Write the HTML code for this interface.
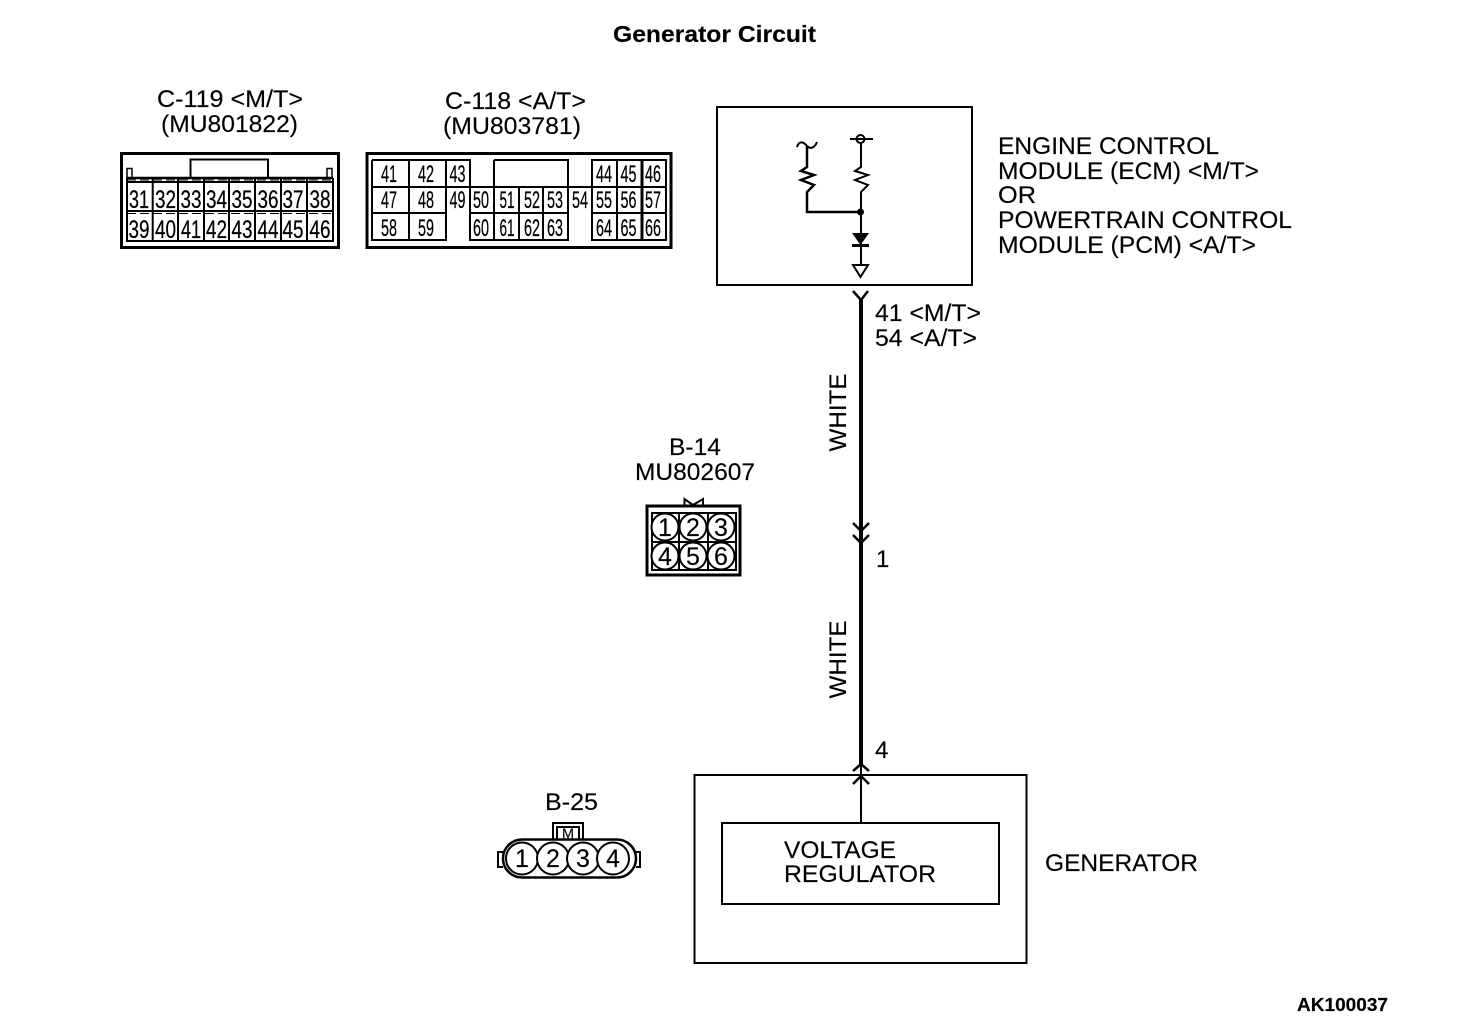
<!DOCTYPE html>
<html><head><meta charset="utf-8"><style>
html,body{margin:0;padding:0;background:#fff}
svg{display:block}
text{font-family:"Liberation Sans",sans-serif;fill:#000;font-size:24px;stroke:#000;stroke-width:.15}
.n{font-size:25px;text-anchor:middle;stroke-width:.25}
.m{font-size:24px;text-anchor:middle;stroke-width:.25}
.c{font-size:25px;text-anchor:middle}
</style></head><body>
<svg width="1472" height="1036" viewBox="0 0 1472 1036" xmlns="http://www.w3.org/2000/svg">
<rect width="1472" height="1036" fill="#fff"/>
<text x="613" y="42" font-weight="bold" textLength="203" lengthAdjust="spacingAndGlyphs" style="font-size:23px">Generator Circuit</text>
<text x="157" y="107" textLength="146" lengthAdjust="spacingAndGlyphs">C-119 &lt;M/T&gt;</text>
<text x="161" y="132" textLength="137" lengthAdjust="spacingAndGlyphs">(MU801822)</text>
<text x="445" y="109" textLength="141" lengthAdjust="spacingAndGlyphs">C-118 &lt;A/T&gt;</text>
<text x="443" y="134" textLength="138" lengthAdjust="spacingAndGlyphs">(MU803781)</text>

<!-- C-119 -->
<g fill="none" stroke="#000" stroke-width="1.5">
<rect x="121.500" y="153.500" width="217" height="94" stroke-width="3"/>
<path d="M190.500 178V159.500H268V178" stroke-width="2"/>
<path d="M127 178V168.500H132V178M327 178V168.500H332V178"/>
<path d="M127 178H333" stroke-width="2.500"/>
<path d="M127 182H333M127 211H333" stroke-width="2"/>
<path d="M127 180H333M127 213.500H333" stroke-dasharray="9 4" stroke-width="1"/>
<path d="M127 178V241H333V178" stroke-width="2"/>
<path d="M152.700 178V241M178 178V241M204 178V241M229 178V241M255 178V241M281 178V241M307 178V241" stroke-width="2"/>
</g>
<g>
<text class="n" x="139" y="208" textLength="20" lengthAdjust="spacingAndGlyphs">31</text><text class="n" x="165.500" y="208" textLength="21" lengthAdjust="spacingAndGlyphs">32</text><text class="n" x="191" y="208" textLength="21" lengthAdjust="spacingAndGlyphs">33</text><text class="n" x="216.500" y="208" textLength="21" lengthAdjust="spacingAndGlyphs">34</text><text class="n" x="242" y="208" textLength="21" lengthAdjust="spacingAndGlyphs">35</text><text class="n" x="268" y="208" textLength="21" lengthAdjust="spacingAndGlyphs">36</text><text class="n" x="293" y="208" textLength="21" lengthAdjust="spacingAndGlyphs">37</text><text class="n" x="320" y="208" textLength="21" lengthAdjust="spacingAndGlyphs">38</text>
<text class="n" x="139" y="238" textLength="21" lengthAdjust="spacingAndGlyphs">39</text><text class="n" x="165.500" y="238" textLength="21" lengthAdjust="spacingAndGlyphs">40</text><text class="n" x="191" y="238" textLength="20" lengthAdjust="spacingAndGlyphs">41</text><text class="n" x="216.500" y="238" textLength="21" lengthAdjust="spacingAndGlyphs">42</text><text class="n" x="242" y="238" textLength="21" lengthAdjust="spacingAndGlyphs">43</text><text class="n" x="268" y="238" textLength="21" lengthAdjust="spacingAndGlyphs">44</text><text class="n" x="293" y="238" textLength="21" lengthAdjust="spacingAndGlyphs">45</text><text class="n" x="320" y="238" textLength="21" lengthAdjust="spacingAndGlyphs">46</text>
</g>

<!-- C-118 -->
<g fill="none" stroke="#000" stroke-width="2">
<rect x="367" y="153.500" width="304" height="94" stroke-width="3"/>
<path d="M372 160H470V187H666V160H592V187M372 160V240H446V187M372 187H470M372 213H446M409 160V240M446 160V187"/>
<path d="M470 187V240H568V187M470 213H568M494 160V240M519 187V240M543 187V240M568 187V160H494M592 187V240H666V187M592 213H666M617 160V240"/>
<path d="M642 160V240" stroke-width="3"/>
</g>
<text class="m" x="389" y="182" textLength="16" lengthAdjust="spacingAndGlyphs">41</text><text class="m" x="426" y="182" textLength="16" lengthAdjust="spacingAndGlyphs">42</text><text class="m" x="457.500" y="182" textLength="16" lengthAdjust="spacingAndGlyphs">43</text>
<text class="m" x="604" y="182" textLength="16" lengthAdjust="spacingAndGlyphs">44</text><text class="m" x="628.500" y="182" textLength="16" lengthAdjust="spacingAndGlyphs">45</text><text class="m" x="653" y="182" textLength="16" lengthAdjust="spacingAndGlyphs">46</text>
<text class="m" x="389" y="208" textLength="16" lengthAdjust="spacingAndGlyphs">47</text><text class="m" x="426" y="208" textLength="16" lengthAdjust="spacingAndGlyphs">48</text><text class="m" x="457.500" y="208" textLength="16" lengthAdjust="spacingAndGlyphs">49</text><text class="m" x="481" y="208" textLength="16" lengthAdjust="spacingAndGlyphs">50</text><text class="m" x="507" y="208" textLength="15" lengthAdjust="spacingAndGlyphs">51</text><text class="m" x="532" y="208" textLength="16" lengthAdjust="spacingAndGlyphs">52</text><text class="m" x="555" y="208" textLength="16" lengthAdjust="spacingAndGlyphs">53</text><text class="m" x="580" y="208" textLength="16" lengthAdjust="spacingAndGlyphs">54</text><text class="m" x="604" y="208" textLength="16" lengthAdjust="spacingAndGlyphs">55</text><text class="m" x="628.500" y="208" textLength="16" lengthAdjust="spacingAndGlyphs">56</text><text class="m" x="653" y="208" textLength="16" lengthAdjust="spacingAndGlyphs">57</text>
<text class="m" x="389" y="236" textLength="16" lengthAdjust="spacingAndGlyphs">58</text><text class="m" x="426" y="236" textLength="16" lengthAdjust="spacingAndGlyphs">59</text><text class="m" x="481" y="236" textLength="16" lengthAdjust="spacingAndGlyphs">60</text><text class="m" x="507" y="236" textLength="15" lengthAdjust="spacingAndGlyphs">61</text><text class="m" x="532" y="236" textLength="16" lengthAdjust="spacingAndGlyphs">62</text><text class="m" x="555" y="236" textLength="16" lengthAdjust="spacingAndGlyphs">63</text><text class="m" x="604" y="236" textLength="16" lengthAdjust="spacingAndGlyphs">64</text><text class="m" x="628.500" y="236" textLength="16" lengthAdjust="spacingAndGlyphs">65</text><text class="m" x="653" y="236" textLength="16" lengthAdjust="spacingAndGlyphs">66</text>

<!-- ECM -->
<rect x="717" y="107" width="255" height="178" fill="none" stroke="#000" stroke-width="2"/>
<g fill="none" stroke="#000" stroke-width="2">
<path d="M797 147C799 141 803 141 807 146C811 150 815 147 817 142"/>
<path d="M807 146V167L801 171L814 175L801 180L814 185L807 192V212H861" stroke-width="2.500"/>
<path d="M861 143V167L855 171L868 175L855 180L868 185L861 192V265"/>
<circle cx="860.500" cy="139" r="4"/>
<path d="M850 139H873"/>
<path d="M852 245.500H869" stroke-width="3"/>
<path d="M853 265H868L860.500 277Z"/>
</g>
<circle cx="860.500" cy="212" r="3.500"/>
<path d="M852 233H869L860.500 245Z"/>
<text x="998" y="154" textLength="221" lengthAdjust="spacingAndGlyphs">ENGINE CONTROL</text>
<text x="998" y="179" textLength="261" lengthAdjust="spacingAndGlyphs">MODULE (ECM) &lt;M/T&gt;</text>
<text x="998" y="203" textLength="38" lengthAdjust="spacingAndGlyphs">OR</text>
<text x="998" y="228" textLength="294" lengthAdjust="spacingAndGlyphs">POWERTRAIN CONTROL</text>
<text x="998" y="253" textLength="258" lengthAdjust="spacingAndGlyphs">MODULE (PCM) &lt;A/T&gt;</text>

<!-- Wire -->
<path d="M861 299V765" stroke="#000" stroke-width="4" fill="none"/>
<path d="M861 765V823" stroke="#000" stroke-width="2" fill="none"/>
<g fill="none" stroke="#000" stroke-width="2.500">
<path d="M853 291L861 300L868 291"/>
<path d="M853 523L861 531L869 523M853 535L861 543L869 535"/>
<path d="M853 771L861 764L869 771M853 784L861 776L869 784"/>
</g>
<text x="875" y="321" textLength="106" lengthAdjust="spacingAndGlyphs">41 &lt;M/T&gt;</text>
<text x="875" y="346" textLength="102" lengthAdjust="spacingAndGlyphs">54 &lt;A/T&gt;</text>
<text transform="translate(846 451.500) rotate(-90)" textLength="78" lengthAdjust="spacingAndGlyphs">WHITE</text>
<text transform="translate(846 698.500) rotate(-90)" textLength="78" lengthAdjust="spacingAndGlyphs">WHITE</text>
<text x="876" y="567">1</text>
<text x="875" y="758">4</text>

<!-- B-14 -->
<text x="669" y="455" textLength="52" lengthAdjust="spacingAndGlyphs">B-14</text>
<text x="635" y="480" textLength="120" lengthAdjust="spacingAndGlyphs">MU802607</text>
<g fill="none" stroke="#000">
<path d="M684.500 505V499L693 505L703 499V505" stroke-width="2"/>
<rect x="647" y="506" width="93" height="69" stroke-width="3"/>
<path d="M652 513H736V570H652ZM652 542H736M679 513V570M708 513V570" stroke-width="2"/>
<g fill="#fff" stroke-width="2">
<circle cx="665" cy="527" r="13.500"/><circle cx="693" cy="527" r="13.500"/><circle cx="721" cy="527" r="13.500"/>
<circle cx="665" cy="556" r="13.500"/><circle cx="693" cy="556" r="13.500"/><circle cx="721" cy="556" r="13.500"/>
</g></g>
<text class="c" x="665" y="536">1</text><text class="c" x="693" y="536">2</text><text class="c" x="721" y="536">3</text>
<text class="c" x="665" y="565">4</text><text class="c" x="693" y="565">5</text><text class="c" x="721" y="565">6</text>

<!-- B-25 -->
<text x="545" y="810" textLength="53" lengthAdjust="spacingAndGlyphs">B-25</text>
<g fill="none" stroke="#000" stroke-width="2">
<path d="M553 839V823H583V839M557 839V827H579V839"/>
<path d="M503 852H498V867H503M636 852H640V867H636"/>
<rect x="503" y="839.500" width="133" height="38" rx="19" stroke-width="2.500" fill="#fff"/>
<g fill="#fff"><circle cx="522" cy="858.500" r="16"/><circle cx="553" cy="858.500" r="16"/><circle cx="583" cy="858.500" r="16"/><circle cx="613" cy="858.500" r="16"/></g>
</g>
<text x="562" y="838" style="font-size:14px" textLength="12" lengthAdjust="spacingAndGlyphs">M</text>
<text class="c" x="522" y="867">1</text><text class="c" x="553" y="867">2</text><text class="c" x="583" y="867">3</text><text class="c" x="613" y="867">4</text>

<!-- Generator -->
<rect x="694.500" y="775" width="332" height="188" fill="none" stroke="#000" stroke-width="2"/>
<rect x="722" y="823" width="277" height="81" fill="none" stroke="#000" stroke-width="2"/>
<text x="784" y="858" textLength="112" lengthAdjust="spacingAndGlyphs">VOLTAGE</text>
<text x="784" y="882" textLength="152" lengthAdjust="spacingAndGlyphs">REGULATOR</text>
<text x="1045" y="871" textLength="153" lengthAdjust="spacingAndGlyphs">GENERATOR</text>
<text x="1297" y="1011" font-weight="bold" textLength="91" lengthAdjust="spacingAndGlyphs" style="font-size:18px">AK100037</text>
</svg>
</body></html>
